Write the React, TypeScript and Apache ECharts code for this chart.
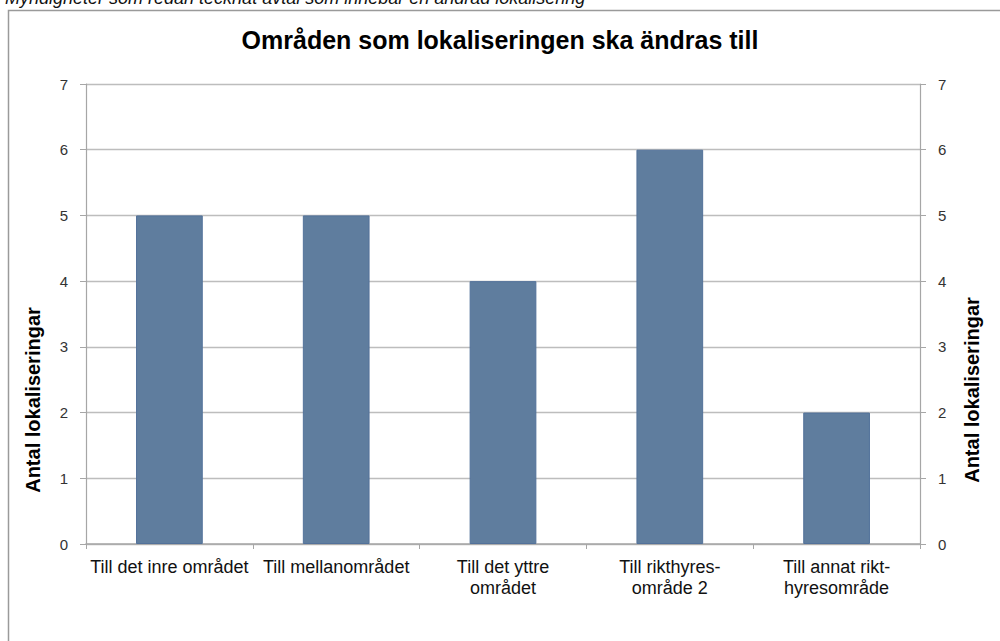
import React, { useEffect, useRef } from "react";
import * as echarts from "echarts";

const categories = [
  "Till det inre området",
  "Till mellanområdet",
  "Till det yttre\nområdet",
  "Till rikthyres-\nområde 2",
  "Till annat rikt-\nhyresområde",
];
const values = [5, 5, 4, 6, 2];
const yTicks = { min: 0, max: 7, interval: 1 };
const chartTitle = "Områden som lokaliseringen ska ändras till";
const axisName = "Antal lokaliseringar";
const headerText = "Myndigheter som redan tecknat avtal som innebär en ändrad lokalisering";

const FONT = "'Liberation Sans', Arial, sans-serif";
const GRID_COLOR = "#bdbdbd";
const AXIS_COLOR = "#a6a6a6";

export default function App() {
  const ref = useRef<HTMLDivElement>(null);
  useEffect(() => {
    if (!ref.current) return;
    const chart = echarts.init(ref.current, undefined, { renderer: "svg" });
    const yAxisBase = {
      type: "value" as const,
      min: yTicks.min,
      max: yTicks.max,
      interval: yTicks.interval,
      axisLine: { show: true, lineStyle: { color: AXIS_COLOR, width: 1.2 } },
      axisTick: { show: true, length: 6, lineStyle: { color: AXIS_COLOR } },
      axisLabel: { fontFamily: FONT, fontSize: 15, color: "#333", margin: 18 },
    };
    const nameStyle = {
      text: axisName,
      fontFamily: FONT,
      fontSize: 20,
      fontWeight: "bold" as const,
      fill: "#000",
      align: "center" as const,
      verticalAlign: "middle" as const,
    };
    chart.setOption({
      animation: false,
      backgroundColor: "#fff",
      textStyle: { fontFamily: FONT },
      title: {
        text: chartTitle,
        left: "center",
        top: 22,
        textStyle: { fontFamily: FONT, fontSize: 25, fontWeight: "bold", color: "#000" },
      },
      grid: { left: 86, right: 80, top: 84, bottom: 97, containLabel: false },
      xAxis: {
        type: "category",
        data: categories,
        axisLine: { show: true, lineStyle: { color: AXIS_COLOR, width: 1.5 } },
        axisTick: { show: true, length: 5, alignWithLabel: false, lineStyle: { color: AXIS_COLOR } },
        axisLabel: { fontFamily: FONT, fontSize: 18, color: "#111", margin: 12, lineHeight: 21, interval: 0 },
        splitLine: { show: false },
      },
      yAxis: [
        {
          ...yAxisBase,
          position: "left",
          splitLine: { show: true, lineStyle: { color: GRID_COLOR, width: 1.3 } },
        },
        {
          ...yAxisBase,
          position: "right",
          splitLine: { show: false },
        },
      ],
      series: [
        {
          type: "bar",
          data: values,
          yAxisIndex: 0,
          barWidth: "40%",
          itemStyle: { color: "#5f7d9e", borderColor: "#52719a", borderWidth: 1 },
        },
      ],
      graphic: [
        {
          type: "rect",
          shape: { x: 8.5, y: 10.5, width: 1100, height: 800 },
          style: { fill: "none", stroke: "#9a9a9a", lineWidth: 1.5 },
          silent: true,
        },
        {
          type: "text",
          x: 5,
          y: 7,
          style: {
            text: headerText,
            fontFamily: FONT,
            fontSize: 18,
            fontStyle: "italic",
            fill: "#111",
            verticalAlign: "bottom",
          },
          silent: true,
        },
        {
          type: "text",
          x: 33,
          y: 400,
          rotation: Math.PI / 2,
          style: nameStyle,
          silent: true,
        },
        {
          type: "text",
          x: 972,
          y: 390,
          rotation: Math.PI / 2,
          style: nameStyle,
          silent: true,
        },
      ],
    });
    return () => chart.dispose();
  }, []);
  return (
    <div
      ref={ref}
      style={{ position: "fixed", left: 0, top: 0, width: 1000, height: 641 }}
    />
  );
}
